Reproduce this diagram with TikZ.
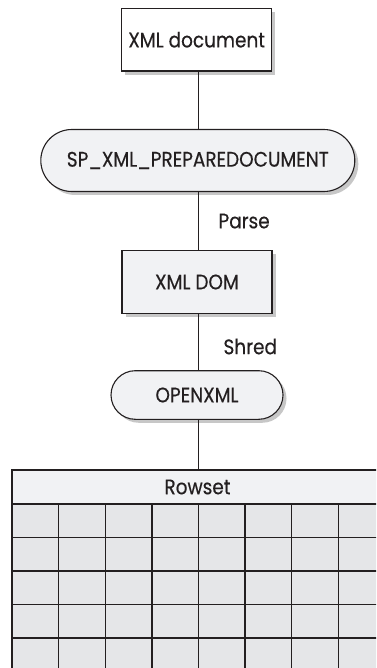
\documentclass[tikz,border=0pt]{standalone}
\usepackage{fontspec}
\setmainfont[FakeStretch=0.88,FakeBold=0.4]{Poppins}
\usetikzlibrary{shadows}
\definecolor{paleg}{HTML}{F1F2F4}
\definecolor{cellg}{HTML}{E5E6E8}
\definecolor{ink}{HTML}{231F20}
\tikzset{
  shade3/.style={drop shadow={shadow xshift=3.5pt,shadow yshift=-3.5pt,fill=black!22,opacity=1}},
  docbox/.style={draw=ink, line width=1.1pt, fill=white, shade3, text=ink,
    minimum width=150pt, minimum height=62.7pt, inner sep=0pt},
  procbox/.style={docbox, fill=paleg},
  pill/.style={draw=ink, line width=1.1pt, fill=paleg, shade3, text=ink, inner sep=0pt},
  link/.style={draw=ink, line width=1pt},
  tag/.style={anchor=west, text=ink, inner sep=0pt},
  grid/.style={draw=ink, line width=1.4pt}
}
\begin{document}
\begin{tikzpicture}[x=1pt,y=-1pt, font=\fontsize{21}{24}\selectfont]
\useasboundingbox (0,0) rectangle (376,668);
\clip (0,0) rectangle (376,668);

% stages of the pipeline
\node[docbox] (doc) at (196.7,39.7) {XML document};
\node[pill, minimum width=314pt, minimum height=62pt, rounded corners=31pt] (prep) at (197.8,160.5) {SP\_XML\_PREPAREDOCUMENT};
\node[procbox] (dom) at (197,282) {XML DOM};
\node[pill, minimum width=172pt, minimum height=48.6pt, rounded corners=24.3pt] (open) at (197,395) {OPENXML};

% result table: header row and cell grid
\fill[cellg] (12,504) rectangle (390,672);
\foreach \c in {1,...,8} \draw[grid] ({12+46.6*\c},504) -- ({12+46.6*\c},672);
\foreach \r in {1,...,4} \draw[grid] (12,{504+33.5*\r}) -- (390,{504+33.5*\r});
\draw[grid] (12,504) -- (12,672);
\node[draw=ink, line width=1.4pt, fill=paleg, text=ink, minimum width=371pt, minimum height=34pt, inner sep=0pt] (rowset) at (197.5,487) {Rowset};

% connectors
\draw[link] (doc.south -| 198.3,0) -- (prep.north -| 198.3,0);
\draw[link] (prep.south -| 198.3,0) -- (dom.north -| 198.3,0) node[pos=0.5, tag, xshift=19.7pt] {Parse};
\draw[link] (dom.south -| 198.3,0) -- (open.north -| 198.3,0) node[pos=0.58, tag, xshift=24.7pt] {Shred};
\draw[link] (open.south -| 198.3,0) -- (rowset.north -| 198.3,0);
\end{tikzpicture}
\end{document}
